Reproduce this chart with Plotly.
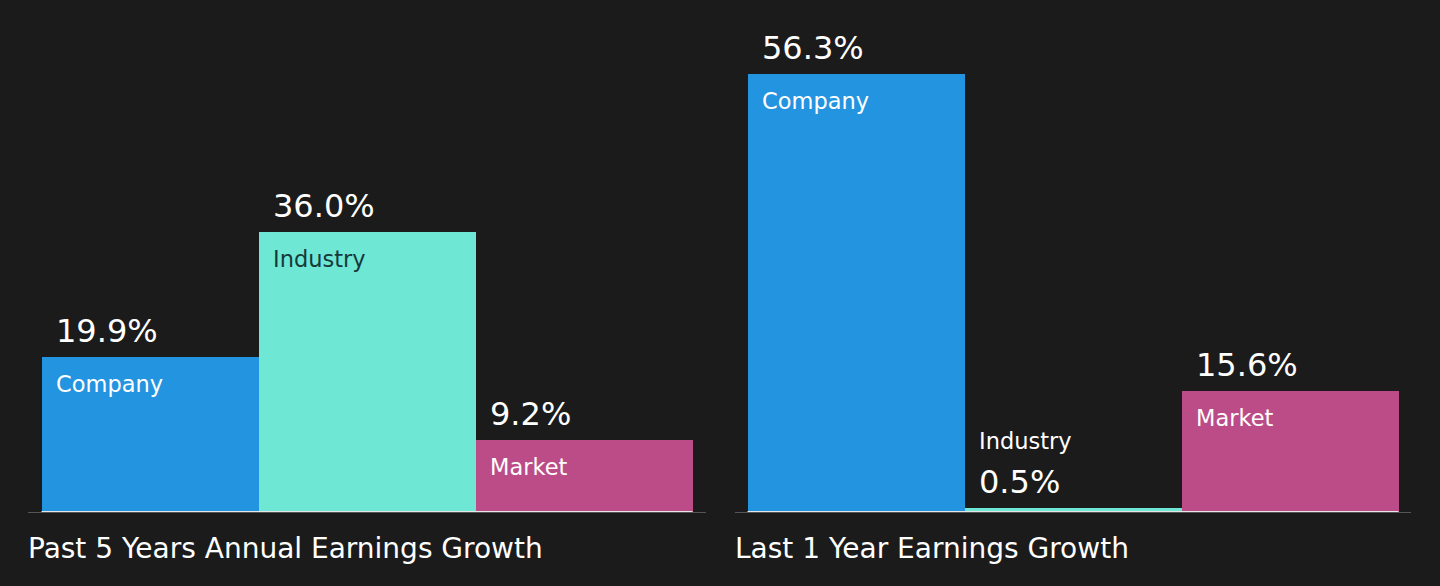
import plotly.graph_objects as go

# data
categories = ["Company", "Industry", "Market"]
past5_values = [19.9, 36.0, 9.2]
last1_values = [56.3, 0.5, 15.6]
panel_titles = ["Past 5 Years Annual Earnings Growth", "Last 1 Year Earnings Growth"]

bar_colors = ["#2394df", "#6ee7d4", "#bc4c87"]
name_colors = ["#ffffff", "#17393a", "#ffffff"]
bg = "#1b1b1b"
font = "DejaVu Sans"

W, H = 1440, 586
y_top = 65.8  # value at top of plot area
small = 5.0   # bars below this get their labels outside

fig = go.Figure()
panels = [(past5_values, "x", "y", (28, 706)), (last1_values, "x2", "y2", (735, 1411))]

annotations = []
shapes = []
for k, (vals, xa, ya, (px0, px1)) in enumerate(panels):
    fig.add_trace(go.Bar(
        x=list(range(len(categories))), y=vals,
        marker=dict(color=bar_colors, line=dict(width=0)),
        width=1.0, xaxis=xa, yaxis=ya, hoverinfo="skip", showlegend=False,
    ))
    for i, (name, v) in enumerate(zip(categories, vals)):
        # value label sits on top of the bar
        annotations.append(dict(
            x=i - 0.5, y=v, xref=xa, yref=ya, text=f"{v:.1f}%",
            xanchor="left", yanchor="bottom", xshift=12, yshift=5,
            showarrow=False, font=dict(family=font, size=32, color="#ffffff")))
        if v >= small:
            annotations.append(dict(
                x=i - 0.5, y=v, xref=xa, yref=ya, text=name,
                xanchor="left", yanchor="top", xshift=12, yshift=-12,
                showarrow=False, font=dict(family=font, size=22.5, color=name_colors[i])))
        else:
            annotations.append(dict(
                x=i - 0.5, y=v, xref=xa, yref=ya, text=name,
                xanchor="left", yanchor="bottom", xshift=12, yshift=52,
                showarrow=False, font=dict(family=font, size=22.5, color="#ffffff")))
    shapes.append(dict(type="line", xref=xa, yref=ya, x0=-0.5, x1=len(categories) - 0.5,
                       y0=0, y1=0, line=dict(color="#e6e6e6", width=2)))
    annotations.append(dict(
        x=px0 / W, y=1 - 548 / H, xref="paper", yref="paper", text=panel_titles[k],
        xanchor="left", yanchor="middle", xshift=-2, showarrow=False,
        font=dict(family=font, size=28, color="#ffffff")))

# pixel geometry -> axis domains / ranges
bar_px = 217.0
y_dom = [(H - 512) / H, 1.0]


def x_axis(px0, px1, anchor):
    pad = ((px1 - px0) - 3 * bar_px) / 2 / bar_px
    return dict(domain=[px0 / W, px1 / W], range=[-0.5 - pad, 2.5 + pad],
                showgrid=False, zeroline=False, showticklabels=False,
                showline=True, linecolor="#555555", linewidth=1,
                anchor=anchor, fixedrange=True)


yax = dict(domain=y_dom, range=[0, y_top], showgrid=False, zeroline=False,
           showticklabels=False, showline=False, fixedrange=True)

fig.update_layout(
    width=W, height=H,
    margin=dict(l=0, r=0, t=0, b=0),
    paper_bgcolor=bg, plot_bgcolor=bg,
    bargap=0,
    xaxis=x_axis(28, 706, "y"),
    xaxis2=x_axis(735, 1411, "y2"),
    yaxis=dict(yax, anchor="x"),
    yaxis2=dict(yax, anchor="x2"),
    annotations=annotations,
    shapes=shapes,
)

# drop the default page margin so the figure fills the window
fig.write_html("out.html", config={"displayModeBar": False},
               post_script="document.body.style.margin='0';document.body.style.background='#1b1b1b';")
